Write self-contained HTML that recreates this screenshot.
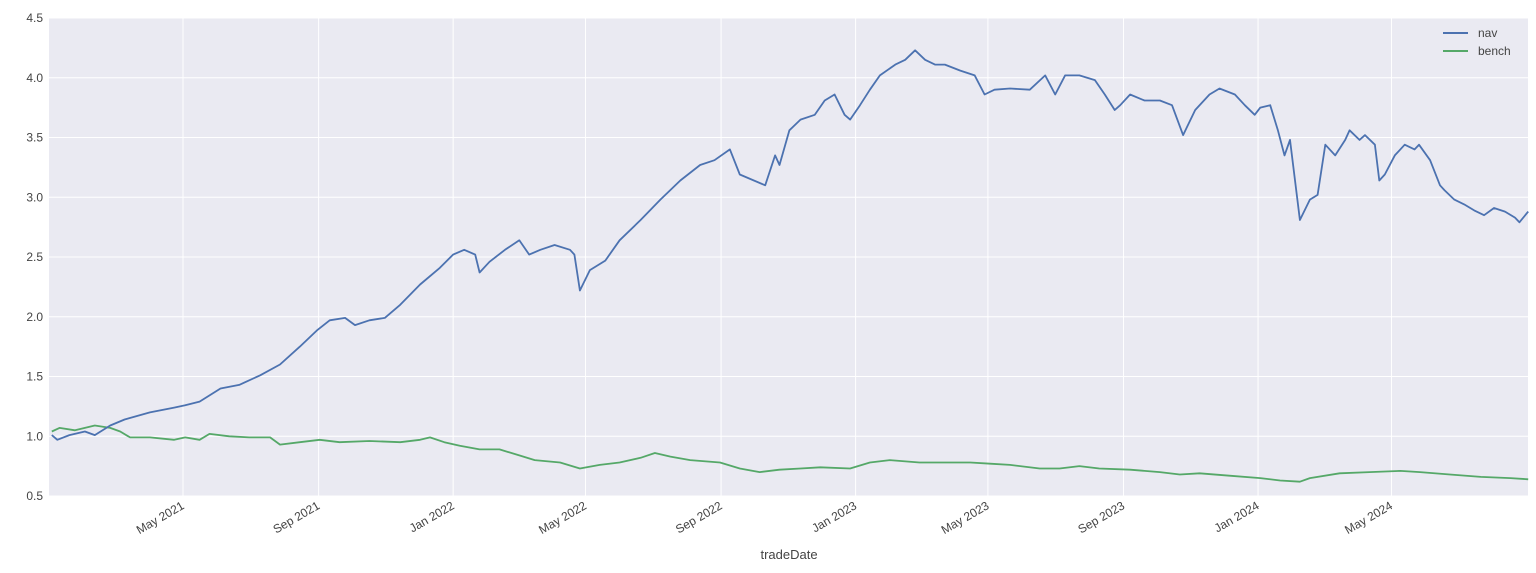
<!DOCTYPE html>
<html><head><meta charset="utf-8"><style>
html,body{margin:0;padding:0;background:#fff;}
svg{display:block;font-family:"Liberation Sans",sans-serif;}
</style></head><body>
<svg id="chart" width="1536" height="573" viewBox="0 0 1536 573">
<rect x="49" y="18" width="1479" height="478" fill="#EAEAF2"/>
<g id="grid"></g><g id="yticks"></g><g id="xticks"></g><g id="lines"></g>
<text x="789" y="559" font-size="13" fill="#444" text-anchor="middle">tradeDate</text>
<g>
<g><line x1="1443" y1="33" x2="1468" y2="33" stroke="#4C72B0" stroke-width="2"/><text x="1478" y="37" font-size="12" fill="#444">nav</text></g>
<g><line x1="1443" y1="51" x2="1468" y2="51" stroke="#55A868" stroke-width="2"/><text x="1478" y="55" font-size="12" fill="#444">bench</text></g>
</g>
</svg>
<script>
const navDays=[1,6,17,31,40,54,67,90,112,122,135,154,171,190,208,226,242,253,267,276,289,303,317,335,353,365,375,385,389,398,412,425,434,444,457,471,475,480,489,503,516,535,553,571,589,602,616,625,648,657,661,670,680,693,702,711,720,725,734,743,752,766,775,784,793,802,811,825,838,847,856,870,888,902,911,920,933,947,956,965,970,979,992,1006,1017,1027,1038,1051,1060,1074,1083,1092,1097,1106,1113,1119,1124,1133,1142,1149,1156,1165,1174,1178,1187,1192,1201,1205,1210,1219,1228,1237,1241,1251,1260,1264,1273,1282,1291,1300,1309,1319,1328,1332,1340];
const navValues=[1.01,0.97,1.01,1.04,1.01,1.09,1.14,1.20,1.24,1.26,1.29,1.40,1.43,1.51,1.60,1.75,1.89,1.97,1.99,1.93,1.97,1.99,2.10,2.27,2.41,2.52,2.56,2.52,2.37,2.46,2.56,2.64,2.52,2.56,2.60,2.56,2.52,2.22,2.39,2.47,2.64,2.81,2.98,3.14,3.27,3.31,3.40,3.19,3.10,3.35,3.27,3.56,3.65,3.69,3.81,3.86,3.69,3.65,3.77,3.90,4.02,4.11,4.15,4.23,4.15,4.11,4.11,4.06,4.02,3.86,3.90,3.91,3.90,4.02,3.86,4.02,4.02,3.98,3.86,3.73,3.77,3.86,3.81,3.81,3.77,3.52,3.73,3.86,3.91,3.86,3.77,3.69,3.75,3.77,3.56,3.35,3.48,2.81,2.98,3.02,3.44,3.35,3.48,3.56,3.48,3.52,3.44,3.14,3.19,3.35,3.44,3.40,3.44,3.31,3.10,3.06,2.98,2.94,2.89,2.85,2.91,2.88,2.83,2.79,2.88];
const benchDays=[1,8,22,31,40,54,63,72,90,112,122,135,144,162,180,199,208,226,244,262,289,317,335,344,357,371,389,407,425,439,462,480,498,516,535,548,562,580,607,625,643,661,680,698,725,743,761,788,815,834,852,870,897,915,933,951,979,1006,1024,1042,1069,1097,1115,1133,1142,1169,1196,1224,1242,1269,1297,1324,1340];
const benchValues=[1.04,1.07,1.05,1.07,1.09,1.07,1.04,0.99,0.99,0.97,0.99,0.97,1.02,1.00,0.99,0.99,0.93,0.95,0.97,0.95,0.96,0.95,0.97,0.99,0.95,0.92,0.89,0.89,0.84,0.80,0.78,0.73,0.76,0.78,0.82,0.86,0.83,0.80,0.78,0.73,0.70,0.72,0.73,0.74,0.73,0.78,0.80,0.78,0.78,0.78,0.77,0.76,0.73,0.73,0.75,0.73,0.72,0.70,0.68,0.69,0.67,0.65,0.63,0.62,0.65,0.69,0.70,0.71,0.70,0.68,0.66,0.65,0.64];
const yTickValues=[0.5,1.0,1.5,2.0,2.5,3.0,3.5,4.0,4.5];
const xTickDays=[120,243,365,485,608,730,850,973,1095,1216];
const xTickLabels=["May 2021","Sep 2021","Jan 2022","May 2022","Sep 2022","Jan 2023","May 2023","Sep 2023","Jan 2024","May 2024"];

const NS="http://www.w3.org/2000/svg";
const xS=d=>50.7+d*1.1026;
const yS=v=>496-(v-0.5)*119.5;
function mk(tag,attrs,parent){const e=document.createElementNS(NS,tag);for(const k in attrs)e.setAttribute(k,attrs[k]);parent.appendChild(e);return e;}
const grid=document.getElementById('grid'),yt=document.getElementById('yticks'),xt=document.getElementById('xticks'),lines=document.getElementById('lines');
yTickValues.forEach(v=>{
  const g=mk('line',{x1:49,x2:1528,y1:yS(v),y2:yS(v),stroke:'#fff','stroke-width':1},grid);
  
  
  const t=mk('text',{x:43,y:yS(v)+4,'font-size':12,fill:'#444','text-anchor':'end'},yt);
  t.textContent=v.toFixed(1);
  
  
});
xTickDays.forEach((d,i)=>{
  const x=xS(d);
  const g=mk('line',{x1:x,x2:x,y1:18,y2:496,stroke:'#fff','stroke-width':1},grid);
  
  
  const t=mk('text',{x:x+2,y:508,'font-size':12,fill:'#444','text-anchor':'end',transform:`rotate(-30 ${x+2} 508)`},xt);
  t.textContent=xTickLabels[i];
  
  
});
function path(days,vals,color,name){
  const d=days.map((dd,i)=>(i?'L':'M')+xS(dd).toFixed(1)+' '+yS(vals[i]).toFixed(1)).join(' ');
  const p=mk('path',{d:d,fill:'none',stroke:color,'stroke-width':1.8,'stroke-linejoin':'round'},lines);
  
  
}
path(benchDays,benchValues,'#55A868','bench-line');
path(navDays,navValues,'#4C72B0','nav-line');
</script>
</body></html>
